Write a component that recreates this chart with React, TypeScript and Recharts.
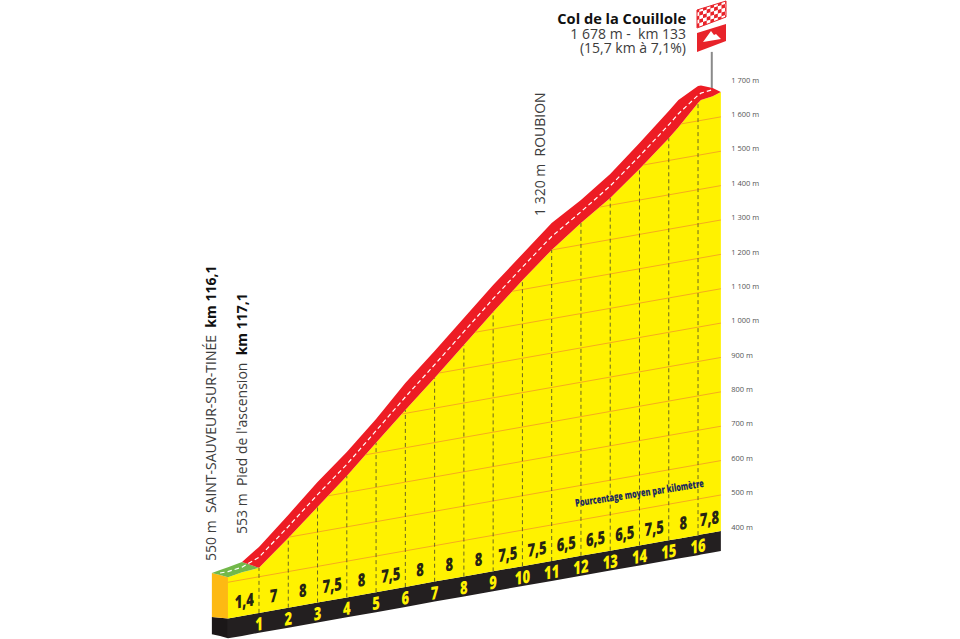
import { Area, ComposedChart, Line, ReferenceDot, ReferenceLine, XAxis, YAxis } from "recharts"

const FONT = "'Open Sans', sans-serif"

const stations = [-0.61, -0.33, -0.06, 0.42, 1, 2, 3, 4, 5, 6, 7, 8, 9, 10, 11, 12, 13, 14, 15, 15.33, 16, 16.1, 16.5, 16.78]

const frontTop = [266, 260, 254]
const frontFold = [138, 136, 134]
const frontBottom = [88, 83, 76]
const greenLow = [266, 260, 254, 268, 281]
const greenHigh = [266, 275, 283, 298, 281]
const floorTop = [null, null, 134, 141, 150, 165, 180, 195, 210, 225, 241, 256, 271, 286, 301, 316, 331, 346, 361, 366, 376, 378, 384, 388]
const floorBottom = [null, null, 76, 83, 92, 107, 122, 137, 152, 167, 183, 198, 213, 228, 243, 258, 273, 288, 303, 308, 318, 320, 326, 330]
const surface = [null, null, 254, 268, 281, 368, 458, 548, 645, 740, 833, 929, 1025, 1118, 1206, 1284, 1357, 1441, 1531, 1563, 1633, 1642, 1653, 1665]
const roadLow = [null, null, null, 298, 281, 368, 458, 548, 645, 740, 833, 929, 1025, 1118, 1206, 1284, 1357, 1441, 1531, 1563, 1633, 1642, 1653, 1665]
const roadTop = [null, null, null, 298, 342, 435, 531, 618, 714, 819, 912, 1008, 1104, 1194, 1284, 1351, 1427, 1517, 1610, 1642, 1683, 1684, 1677, 1665]
const roadCentre = [null, 266, 270, 283, 312, 401, 494, 582, 680, 778, 872, 968, 1064, 1156, 1245, 1317, 1392, 1479, 1570, 1602, 1656, 1662, 1672, null]

const kmMarks = [1, 2, 3, 4, 5, 6, 7, 8, 9, 10, 11, 12, 13, 14, 15, 16]
const percents = ["1,4", "7", "8", "7,5", "8", "7,5", "8", "8", "8", "7,5", "7,5", "6,5", "6,5", "6,5", "7,5", "8", "7,8"]
const percentKm = [0.5, 1.5, 2.5, 3.5, 4.5, 5.5, 6.5, 7.5, 8.5, 9.5, 10.5, 11.5, 12.5, 13.5, 14.5, 15.5, 16.39]
const altitudeTicks = [400, 500, 600, 700, 800, 900, 1000, 1100, 1200, 1300, 1400, 1500, 1600, 1700]
const gridLevels = [500, 600, 700, 800, 900, 1000, 1100, 1200, 1300, 1400, 1500, 1600]

const endKm = 16.78
const slant = 15.08

const chartData = stations.map((km, i) => ({
  km,
  front: frontTop[i] != null ? [frontFold[i], frontTop[i]] : null,
  frontBase: frontBottom[i] != null ? [frontBottom[i], frontFold[i]] : null,
  green: greenLow[i] != null ? [greenLow[i], greenHigh[i]] : null,
  yellow: surface[i] != null ? [floorTop[i], surface[i]] : null,
  strip: floorTop[i] != null ? [floorBottom[i], floorTop[i]] : null,
  road: roadTop[i] != null ? [roadLow[i], roadTop[i]] : null,
  centre: roadCentre[i],
}))

const floorAt = (km: number) => 388 - slant * (endKm - km)
const surfaceAt = (km: number) => surface[stations.indexOf(km)] as number
const gridValue = (level: number, km: number) => level - 7 - slant * (endKm - km)

// a slanted altitude line only shows from where it comes out from under the road
const gridStart = (level: number) => {
  for (let i = 3; i < stations.length; i++) {
    const a = stations[i - 1]
    const b = stations[i]
    const da = gridValue(level, a) - (surface[i - 1] as number)
    const db = gridValue(level, b) - (surface[i] as number)
    if (da > 0 && db <= 0) {
      const km = a + ((b - a) * da) / (da - db)
      return { x: km, y: gridValue(level, km) }
    }
  }
  return { x: -0.06, y: gridValue(level, -0.06) }
}

const formatAltitude = (v: number) => `${v >= 1000 ? `${Math.floor(v / 1000)} ${String(v % 1000).padStart(3, "0")}` : v} m`

const slanted = (label: string, fill: string) => (props: any) => (
  <text
    transform={`translate(${props.cx} ${props.cy}) skewY(-10) scale(0.72 1)`}
    textAnchor="middle"
    dominantBaseline="central"
    fontFamily={FONT}
    fontWeight={800}
    fontSize={18}
    fill={fill}
  >
    {label}
  </text>
)

const captionShape = (props: any) => (
  <text
    transform={`translate(${props.cx} ${props.cy}) rotate(-8.8)`}
    textAnchor="middle"
    dominantBaseline="central"
    fontFamily={FONT}
    fontSize={10.5}
    fontWeight={800}
    fill="#1c2a5e"
    textLength={130}
    lengthAdjust="spacingAndGlyphs"
  >
    Pourcentage moyen par kilomètre
  </text>
)

function Flag() {
  return (
    <g>
      <defs>
        <pattern id="checks" width="7.4" height="7.4" patternUnits="userSpaceOnUse" patternTransform="skewY(-17)">
          <rect width="7.4" height="7.4" fill="#ffffff" />
          <rect width="3.7" height="3.7" fill="#e8232a" />
          <rect x="3.7" y="3.7" width="3.7" height="3.7" fill="#e8232a" />
        </pattern>
      </defs>
      <polygon points="697,10 726,1 726,17 697,28" fill="url(#checks)" stroke="#e8232a" strokeWidth={1} />
      <polygon points="697,33 726,24 726,41 697,52" fill="#e8232a" />
      <polygon points="703,42 711,31 714,35 716,34 721,39" fill="#ffffff" />
    </g>
  )
}

function Notes() {
  return (
    <g fontFamily={FONT} fill="#3c3c3c">
      <text x={686} y={24} textAnchor="end" fontSize={14.6} fontWeight={700} fill="#111111">
        Col de la Couillole
      </text>
      <text x={686} y={38.5} textAnchor="end" fontSize={14}>
        {"1 678 m -\u00a0\u00a0km 133"}
      </text>
      <text x={686} y={52.5} textAnchor="end" fontSize={14}>
        (15,7 km à 7,1%)
      </text>
      <text transform="translate(216 561) rotate(-90)" fontSize={14}>
        {"550 m\u00a0\u00a0SAINT-SAUVEUR-SUR-TINÉE\u00a0\u00a0"}
        <tspan fontWeight={700} fill="#111111">km 116,1</tspan>
      </text>
      <text transform="translate(247 534) rotate(-90)" fontSize={14}>
        {"553 m\u00a0\u00a0Pied de l'ascension\u00a0\u00a0"}
        <tspan fontWeight={700} fill="#111111">km 117,1</tspan>
      </text>
      <text transform="translate(545 216) rotate(-90)" fontSize={14}>
        {"1 320 m\u00a0\u00a0ROUBION"}
      </text>
    </g>
  )
}

export default function App() {
  return (
    <div style={{ position: "absolute", left: 0, top: 0, width: 960, height: 639, background: "#fff" }}>
      <ComposedChart
        width={960}
        height={639}
        data={chartData}
        margin={{ top: 0, right: 0, bottom: 0, left: 200.46 }}
        style={{ fontFamily: FONT }}
      >
        <XAxis dataKey="km" type="number" domain={[-1, 17]} hide />
        <YAxis
          orientation="right"
          width={232.7}
          domain={[74, 1933]}
          ticks={altitudeTicks}
          interval={0}
          tickFormatter={formatAltitude}
          axisLine={false}
          tickLine={false}
          tickSize={0}
          tickMargin={4}
          tick={{ fontSize: 7.5, fill: "#555555", fontFamily: FONT }}
        />
        <Area dataKey="strip" stroke="none" fill="#231f20" fillOpacity={1} dot={false} activeDot={false} isAnimationActive={false} />
        <Area dataKey="frontBase" stroke="none" fill="#1b1718" fillOpacity={1} dot={false} activeDot={false} isAnimationActive={false} />
        <Area dataKey="front" stroke="none" fill="#fdb913" fillOpacity={1} dot={false} activeDot={false} isAnimationActive={false} />
        <Area dataKey="yellow" stroke="none" fill="#fff200" fillOpacity={1} dot={false} activeDot={false} isAnimationActive={false} />
        <Area dataKey="green" stroke="none" fill="#72b84a" fillOpacity={1} dot={false} activeDot={false} isAnimationActive={false} />
        <Area dataKey="road" stroke="none" fill="#ed1c24" fillOpacity={1} dot={false} activeDot={false} isAnimationActive={false} />
        {gridLevels.map((level) => (
          <ReferenceLine
            key={level}
            segment={[gridStart(level), { x: endKm, y: gridValue(level, endKm) }]}
            stroke="#f6ab1e"
            strokeWidth={1}
          />
        ))}
        {kmMarks.map((km) => (
          <ReferenceLine
            key={km}
            segment={[{ x: km, y: floorAt(km) }, { x: km, y: surfaceAt(km) }]}
            stroke="#6a6820"
            strokeWidth={1}
            strokeDasharray="4 3"
          />
        ))}
        <ReferenceLine segment={[{ x: 16.47, y: 1677 }, { x: 16.47, y: 1782 }]} stroke="#8a8a8a" strokeWidth={2} />
        <Line dataKey="centre" stroke="#ffffff" strokeWidth={1.2} strokeDasharray="4.5 3" dot={false} activeDot={false} connectNulls isAnimationActive={false} />
        {percents.map((p, i) => (
          <ReferenceDot key={i} x={percentKm[i]} y={floorAt(percentKm[i]) + 44} r={0} shape={slanted(p, "#262414")} />
        ))}
        {kmMarks.map((km) => (
          <ReferenceDot key={km} x={km} y={floorAt(km) - 31} r={0} shape={slanted(String(km), "#fff200")} />
        ))}
        <ReferenceDot x={14} y={floorAt(14) + 153} r={0} shape={captionShape} />
        <Flag />
        <Notes />
      </ComposedChart>
    </div>
  )
}
